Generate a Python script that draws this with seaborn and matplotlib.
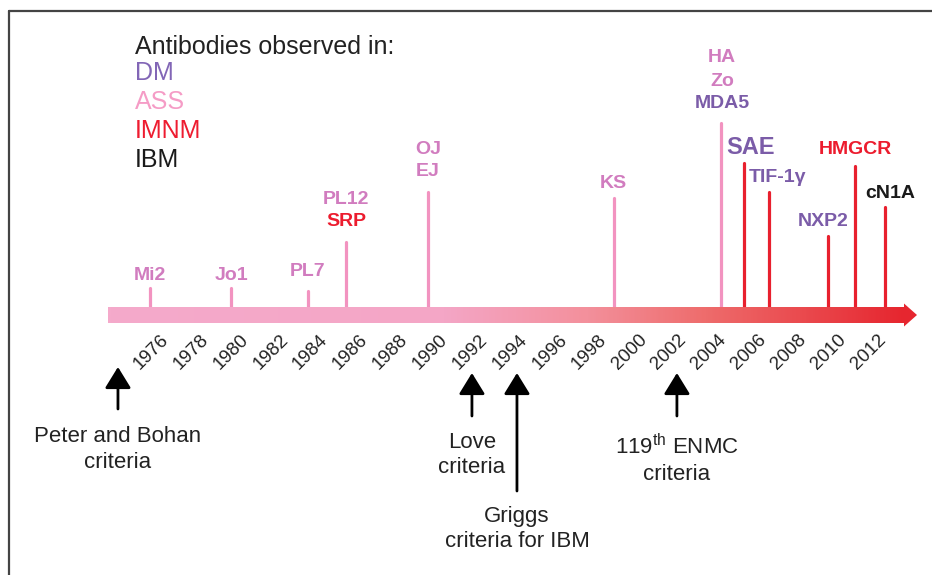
import numpy as np
import pandas as pd
import seaborn as sns
import matplotlib.pyplot as plt
from matplotlib.colors import LinearSegmentedColormap
from matplotlib.patches import Polygon
from matplotlib.lines import Line2D

# timeline data (years)
stem_years = [1975.5, 1979.56, 1983.43, 1985.34, 1989.45, 1998.79,
              2004.16, 2005.32, 2006.57, 2009.53, 2010.89, 2012.4]
stem_heights = [27, 27, 24, 73, 123, 117, 192, 152, 123, 79, 149, 108]
stem_kind = ['pink'] * 7 + ['red'] * 5

antibodies = ['Mi2', 'Jo1', 'PL7', 'PL12', 'SRP', 'OJ', 'EJ', 'KS', 'HA', 'Zo',
              'MDA5', 'SAE', 'TIF-1γ', 'NXP2', 'HMGCR', 'cN1A']
antibody_group = ['ASS', 'ASS', 'ASS', 'ASS', 'IMNM', 'ASS', 'ASS', 'ASS', 'ASS',
                  'ASS', 'DM', 'DM', 'DM', 'DM', 'IMNM', 'IBM']
antibody_stem = [0, 1, 2, 3, 3, 4, 4, 5, 6, 6, 6, 7, 8, 9, 10, 11]

criteria = ['Peter and Bohan\ncriteria', 'Love\ncriteria',
            'Griggs\ncriteria for IBM', '119$^{\\mathrm{th}}$ ENMC\ncriteria']
criteria_years = [1973.89, 1991.66, 1993.92, 2001.95]

tick_years = list(range(1976, 2013, 2))

groups = ['DM', 'ASS', 'IMNM', 'IBM']

# layout helpers: picture pixels -> data
PX_PER_YEAR = 19.92
X0_PX = 160
AXIS_PX = 315


def X(px):
    return 1976 + (px - X0_PX) / PX_PER_YEAR


def Y(py):
    return AXIS_PX - py


# label placement (pixels, relative to stem top)
label_dx = [0, 1, 0, 0, 0, 0, 0, -1, 1, 1, 1, 6, 9, -5, 0, 5]
label_dy = [13, 12, 20, 42, 20, 43, 20, 14, 65, 42, 20, 15, 14, 14, 16, 14]
label_size = [14] * 16
label_size[11] = 17

crit_text_py = [449.5, 455, 529, 459.5]
crit_tail_py = [409, 416, 491, 416]
crit_tip_py = [367, 373, 373, 373]

group_colors = {'DM': '#7b5ca8', 'ASS': '#d17cbf', 'IMNM': '#ec1c2e', 'IBM': '#1a1a1a'}
legend_colors = {'DM': '#8266b6', 'ASS': '#f59cc6', 'IMNM': '#ee1c30', 'IBM': '#1a1a1a'}
stem_colors = {'pink': '#f293c0', 'red': '#e8202e'}

sns.set_theme(style='white')
plt.rcParams['font.family'] = ['Liberation Sans', 'DejaVu Sans']
plt.rcParams['mathtext.fontset'] = 'custom'
plt.rcParams['mathtext.rm'] = 'Liberation Sans'

fig = plt.figure(figsize=(9.32, 5.75), dpi=100)
ax = fig.add_axes([0, 0, 1, 1])

# stems
rows = []
for i, (yr, h, k) in enumerate(zip(stem_years, stem_heights, stem_kind)):
    rows.append({'stem': i, 'year': yr, 'h': 0, 'kind': k})
    rows.append({'stem': i, 'year': yr, 'h': h, 'kind': k})
stems = pd.DataFrame(rows)
sns.lineplot(data=stems, x='year', y='h', units='stem', estimator=None,
             hue='kind', palette=stem_colors, lw=2.3, legend=False,
             ax=ax, zorder=1)

# gradient axis bar
cmap = LinearSegmentedColormap.from_list(
    'bar', [(0, '#f5aacb'), (0.42, '#f4a6c6'), (0.6, '#f3909c'),
            (0.75, '#ee6c6c'), (1, '#e6262f')])
grad = np.linspace(0, 1, 400).reshape(1, -1)
ax.imshow(grad, extent=[X(108), X(906), -8, 8], aspect='auto', cmap=cmap,
          zorder=2)
ax.add_patch(Polygon([(X(904), 11.5), (X(904), -11.5), (X(917), 0)],
                     closed=True, color='#e6262f', lw=0, zorder=2))

# antibody labels
for i, name in enumerate(antibodies):
    s = antibody_stem[i]
    ax.text(stem_years[s] + label_dx[i] / PX_PER_YEAR,
            stem_heights[s] + label_dy[i], name,
            color=group_colors[antibody_group[i]], fontsize=label_size[i],
            fontweight='bold', ha='center', va='center')

# legend block
ax.text(X(135), Y(47), 'Antibodies observed in:', fontsize=18,
        color='#222222', ha='left', va='center')
for g, py in zip(groups, [73, 102, 131, 160]):
    ax.text(X(135), Y(py), g, fontsize=18, color=legend_colors[g],
            ha='left', va='center')

# diagnostic criteria arrows
for i, (lab, yr) in enumerate(zip(criteria, criteria_years)):
    ax.annotate('', xy=(yr, Y(crit_tip_py[i])), xytext=(yr, Y(crit_tail_py[i])),
                arrowprops=dict(arrowstyle='-|>,head_width=0.4,head_length=0.65',
                                color='black', lw=2, mutation_scale=20,
                                shrinkA=0, shrinkB=0))
    ax.text(yr, Y(crit_text_py[i]), lab, fontsize=16, color='#222222',
            ha='center', va='center', linespacing=1.25)

ax.set_xlim(X(0), X(932))
ax.set_ylim(Y(575), Y(0))

# ticks sit just under the bar (set spine position before the labels)
ax.spines['bottom'].set_position(('data', -8))
for sp in ax.spines.values():
    sp.set_visible(False)
ax.tick_params(axis='x', length=0, pad=6)
ax.set_yticks([])
ax.set_xticks(tick_years)
ax.set_xticklabels([str(t) for t in tick_years], rotation=45, ha='right',
                   va='top', rotation_mode='anchor', fontsize=13.5,
                   color='#222222')
ax.set_xlabel('')
ax.set_ylabel('')

# frame
fig.add_artist(Line2D([9 / 932, 9 / 932], [0, 1 - 11 / 575],
                      transform=fig.transFigure, color='#444444', lw=1.6))
fig.add_artist(Line2D([9 / 932, 1], [1 - 11 / 575, 1 - 11 / 575],
                      transform=fig.transFigure, color='#444444', lw=1.6))

fig.savefig('out.png', dpi=100)
